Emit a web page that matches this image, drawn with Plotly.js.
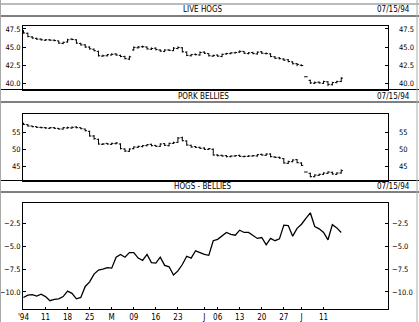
<!DOCTYPE html>
<html>
<head>
<meta charset="utf-8">
<script src="https://cdn.plot.ly/plotly-3.0.1.min.js"></script>
<style>html,body{margin:0;padding:0;background:#fff;}#chart{width:419px;height:322px;}</style>
</head>
<body>
<div id="chart"></div>
<script>
// Trading days (1994), April 4 .. July 15
var tradingDays = [
 '04-04','04-05','04-06','04-07','04-08','04-11','04-12','04-13','04-14','04-15',
 '04-18','04-19','04-20','04-21','04-22','04-25','04-26','04-27','04-28','04-29',
 '05-02','05-03','05-04','05-05','05-06','05-09','05-10','05-11','05-12','05-13',
 '05-16','05-17','05-18','05-19','05-20','05-23','05-24','05-25','05-26','05-27','05-31',
 '06-01','06-02','06-03','06-06','06-07','06-08','06-09','06-10','06-13','06-14','06-15','06-16','06-17',
 '06-20','06-21','06-22','06-23','06-24','06-27','06-28','06-29','06-30',
 '07-01','07-05','07-06','07-07','07-08','07-11','07-12','07-13','07-14','07-15'
];
var tickDates  = ['04-04','04-11','04-18','04-25','05-02','05-09','05-16','05-23','06-01','06-06','06-13','06-20','06-27','07-01','07-11'];
var tickLabels = ["'94",'11','18','25','M','09','16','23','J','06','13','20','27','J','11'];

// LIVE HOGS
var hogsOpen = [47.15,46.9,46.4,46.2,46.1,45.95,46.0,45.95,45.85,45.5,45.7,46.1,46.0,45.5,45.3,45.0,44.7,44.4,43.75,43.8,
 43.9,44.05,43.85,43.7,43.35,44.6,44.9,45.05,45.0,44.7,44.85,44.6,44.4,44.6,44.5,44.8,44.9,44.3,43.8,44.0,
 43.9,44.3,44.1,43.75,43.9,43.7,44.05,44.1,44.2,44.3,44.4,44.1,44.25,44.05,44.35,44.1,44.05,43.65,43.5,43.35,
 43.25,42.95,42.7,42.5,40.9,40.4,40.0,40.15,40.0,40.2,39.8,40.1,40.25];
var hogsHigh = [47.35,47.0,46.5,46.3,46.2,46.1,46.1,46.05,45.9,45.75,46.15,46.2,46.1,45.6,45.4,45.1,44.8,44.5,43.95,44.05,
 44.15,44.15,43.95,43.8,43.8,45.1,45.15,45.2,45.1,44.95,44.95,44.7,44.7,44.7,45.0,45.1,45.0,44.4,44.05,44.1,
 44.4,44.4,44.15,43.95,43.95,44.1,44.2,44.3,44.35,44.55,44.45,44.3,44.35,44.4,44.45,44.25,44.15,43.75,43.6,43.45,
 43.35,43.05,42.8,42.6,40.9,40.5,40.25,40.25,40.35,40.3,40.2,40.35,40.85];
var hogsLow = [46.85,46.35,46.15,46.0,45.9,45.85,45.85,45.8,45.45,45.4,45.6,45.95,45.45,45.2,44.9,44.65,44.4,43.7,43.65,43.7,
 43.85,43.8,43.6,43.3,43.2,44.5,44.8,44.9,44.65,44.6,44.55,44.35,44.3,44.45,44.45,44.7,44.25,43.75,43.7,43.85,
 43.8,44.05,43.7,43.65,43.65,43.6,43.95,44.0,44.1,44.2,44.05,44.0,44.0,43.95,44.05,44.0,43.6,43.35,43.3,43.1,
 42.9,42.6,42.35,42.35,40.9,39.9,39.9,39.95,39.9,39.6,39.7,40.0,40.15];
var hogsClose = [46.95,46.45,46.25,46.1,46.0,46.0,45.95,45.9,45.55,45.65,46.0,46.05,45.55,45.3,45.0,44.75,44.5,43.8,43.8,43.95,
 44.0,43.9,43.7,43.4,43.65,44.95,45.0,45.05,44.75,44.8,44.65,44.45,44.6,44.55,44.85,44.95,44.35,43.85,43.95,43.95,
 44.25,44.15,43.8,43.85,43.75,44.0,44.1,44.2,44.25,44.4,44.15,44.2,44.1,44.3,44.15,44.1,43.7,43.45,43.4,43.2,
 43.0,42.7,42.6,42.45,40.9,40.05,40.1,40.05,40.25,39.85,40.1,40.25,40.7];

// PORK BELLIES
var belliesOpen = [57.8,57.4,57.0,56.8,56.6,56.5,56.3,56.5,56.3,56.1,56.4,56.4,56.7,56.5,56.1,55.4,54.0,53.0,51.5,51.8,
 51.5,51.7,51.6,50.1,49.4,50.2,50.6,50.8,51.1,51.5,51.2,50.9,51.7,51.1,51.8,52.1,53.5,52.5,51.2,50.8,
 50.6,50.4,50.0,50.0,48.3,48.2,48.1,47.8,48.0,48.2,47.8,47.9,48.0,48.0,48.5,48.2,48.6,47.7,47.6,47.2,
 45.8,46.3,46.9,45.9,43.2,42.8,41.8,42.2,42.5,42.8,43.1,42.5,42.9];
var belliesHigh = [58.0,57.6,57.1,56.9,56.8,56.7,56.7,56.7,56.4,56.7,56.8,56.9,56.9,56.6,56.2,55.6,54.3,53.2,51.9,51.9,
 52.0,52.2,51.8,50.3,50.3,50.9,51.1,51.3,51.6,51.7,51.3,51.8,51.9,52.0,52.3,53.7,53.8,52.7,51.4,51.0,
 50.8,50.6,50.4,50.3,48.5,48.4,48.3,48.2,48.3,48.4,48.1,48.2,48.3,48.6,48.7,48.8,48.8,47.9,47.8,47.4,
 46.6,47.0,47.1,46.1,43.2,43.0,42.5,42.7,43.1,43.4,43.3,43.1,44.0];
var belliesLow = [57.3,56.8,56.6,56.4,56.3,56.2,56.1,56.1,55.9,55.9,56.2,56.2,56.3,56.0,55.4,53.8,52.9,51.4,51.3,51.4,
 51.3,51.5,50.0,49.2,49.2,50.0,50.4,50.6,50.9,50.9,50.7,50.7,51.0,50.9,51.6,51.9,52.4,51.1,50.5,50.4,
 50.1,49.8,49.8,48.1,47.9,47.8,47.6,47.6,47.8,47.7,47.6,47.7,47.8,47.8,48.1,48.0,47.6,47.4,47.2,45.7,
 45.6,46.1,45.8,45.0,43.2,41.6,41.6,42.0,42.3,42.6,42.4,42.3,42.7];
var belliesClose = [57.5,57.0,56.8,56.6,56.5,56.4,56.5,56.3,56.1,56.5,56.5,56.6,56.5,56.2,55.6,54.0,53.2,51.6,51.6,51.6,
 51.8,51.9,50.2,49.5,50.1,50.7,50.9,51.1,51.4,51.1,50.9,51.6,51.2,51.8,52.0,53.4,52.6,51.3,50.7,50.6,
 50.3,50.0,50.2,48.3,48.1,48.0,47.8,48.0,48.1,47.9,47.9,48.0,48.1,48.4,48.3,48.6,47.8,47.6,47.4,45.9,
 46.3,46.8,46.0,45.2,43.2,41.8,42.3,42.5,42.9,43.2,42.6,42.9,43.6];

// HOGS - BELLIES
var spread = [-10.6,-10.35,-10.3,-10.45,-10.25,-10.5,-10.95,-10.8,-10.75,-10.5,-9.9,-10.15,-10.75,-10.6,-9.4,-8.9,-8.05,-7.6,-7.5,-7.35,
 -7.4,-6.2,-5.9,-6.2,-5.7,-5.7,-6.3,-6.55,-5.9,-6.8,-6.85,-6.2,-7.1,-7.25,-8.15,-7.7,-7.0,-6.1,-6.3,-5.5,
 -5.7,-5.9,-6.0,-4.4,-4.25,-3.9,-3.5,-3.7,-3.8,-3.25,-3.5,-3.5,-3.8,-4.15,-4.05,-4.85,-4.15,-4.4,-4.2,-2.7,
 -2.75,-3.9,-3.05,-2.6,-1.95,-1.35,-2.85,-3.1,-3.5,-4.3,-2.65,-3.0,-3.5];

var reportDate = '07/15/94';
var panelTitles = ['LIVE HOGS','PORK BELLIES','HOGS - BELLIES'];

var xIdx = tradingDays.map(function(d, i){ return i; });
var tickVals = tickDates.map(function(d){ return tradingDays.indexOf(d); });

var FONT = '"Liberation Sans Narrow", "DejaVu Sans Condensed", "Arial Narrow", sans-serif';
var W = 419, H = 322;
function py(p){ return 1 - p / H; }
function px(p){ return p / W; }

var xDom = [px(23), px(388)];
var xRange = [-0.1, 82.6];

function ohlcTrace(o, h, l, c, xa_, ya_){
 return {type:'ohlc', x:xIdx, open:o, high:h, low:l, close:c, xaxis:xa_, yaxis:ya_,
  increasing:{line:{color:'#000', width:1}}, decreasing:{line:{color:'#000', width:1}}, tickwidth:0.4, hoverinfo:'skip'};
}
// invisible companions so the right-hand price axes are drawn
function ghost(y, xa_, ya_){
 return {type:'scatter', mode:'lines', x:xIdx, y:y, xaxis:xa_, yaxis:ya_, opacity:0, line:{width:0}, hoverinfo:'skip'};
}

var traces = [
 ohlcTrace(hogsOpen, hogsHigh, hogsLow, hogsClose, 'x', 'y'),
 ohlcTrace(belliesOpen, belliesHigh, belliesLow, belliesClose, 'x2', 'y2'),
 {type:'scatter', mode:'lines', x:xIdx, y:spread, xaxis:'x3', yaxis:'y3', line:{color:'#000', width:1.3}, hoverinfo:'skip'},
 ghost(hogsClose, 'x', 'y4'),
 ghost(belliesClose, 'x2', 'y5'),
 ghost(spread, 'x3', 'y6')
];

function xa(anchor, labels){
 var a = {domain:xDom, range:xRange, anchor:anchor, showline:true, mirror:true, linecolor:'#000', linewidth:1,
  showgrid:false, zeroline:false, rangeslider:{visible:false}, fixedrange:true, ticks:'', showticklabels:false};
 if (labels){
  a.showticklabels = true; a.tickmode = 'array'; a.tickvals = tickVals; a.ticktext = tickLabels;
  a.tickfont = {family:FONT, size:8, color:'#000'}; a.ticks = 'inside'; a.ticklen = 2; a.tickcolor = '#000';
 }
 return a;
}
function ya(dom, range, vals, fmt, anchor, right, standoff){
 var a = {domain:dom, range:range, anchor:anchor, tickmode:'array', tickvals:vals, tickformat:fmt,
  ticks:'inside', ticklen:3, tickcolor:'#000', showgrid:false, zeroline:false, fixedrange:true,
  tickfont:{family:FONT, size:7.5, color:'#000'}, ticklabelstandoff:standoff};
 if (right){ a.overlaying = right; a.side = 'right'; a.showline = false; }
 else { a.showline = true; a.mirror = true; a.linecolor = '#000'; a.linewidth = 1; }
 return a;
}

var d1 = [py(89.5), py(26)], d2 = [py(180.5), py(114)], d3 = [py(309), py(203)];
var r1 = [39.14, 47.91], r2 = [40.65, 60.6], r3 = [-11.86, -0.28];
var v1 = [40, 42.5, 45, 47.5], v2 = [45, 50, 55], v3 = [-10, -7.5, -5, -2.5];

var layout = {
 width:W, height:H, margin:{l:0, r:0, t:0, b:0}, paper_bgcolor:'#fff', plot_bgcolor:'#fff', showlegend:false,
 font:{family:FONT, size:8, color:'#000'},
 xaxis: xa('y', false), xaxis2: xa('y2', false), xaxis3: xa('y3', true),
 yaxis:  ya(d1, r1, v1, '.1f', 'x', null, 0),
 yaxis2: ya(d2, r2, v2, '', 'x2', null, 0),
 yaxis3: ya(d3, r3, v3, '.1f', 'x3', null, 0),
 yaxis4: ya(d1, r1, v1, '.1f', 'x', 'y', 10),
 yaxis5: ya(d2, r2, v2, '', 'x2', 'y2', 10),
 yaxis6: ya(d3, r3, v3, '.1f', 'x3', 'y3', 3),
 shapes: [
  {type:'line', xref:'paper', yref:'paper', x0:0, x1:1, y0:py(4), y1:py(4), line:{color:'#777', width:1}},
  {type:'line', xref:'paper', yref:'paper', x0:0, x1:1, y0:py(16), y1:py(16), line:{color:'#000', width:1}},
  {type:'line', xref:'paper', yref:'paper', x0:0, x1:1, y0:py(89.5), y1:py(89.5), line:{color:'#000', width:1}},
  {type:'line', xref:'paper', yref:'paper', x0:0, x1:1, y0:py(102), y1:py(102), line:{color:'#000', width:1}},
  {type:'line', xref:'paper', yref:'paper', x0:0, x1:1, y0:py(180.5), y1:py(180.5), line:{color:'#000', width:1}},
  {type:'line', xref:'paper', yref:'paper', x0:0, x1:1, y0:py(192), y1:py(192), line:{color:'#000', width:1}},
  {type:'line', xref:'paper', yref:'paper', x0:px(0.5), x1:px(0.5), y0:0, y1:1, line:{color:'#aaa', width:1}},
  {type:'line', xref:'paper', yref:'paper', x0:px(417), x1:px(417), y0:0, y1:1, line:{color:'#aaa', width:1}}
 ],
 annotations: [
  {text:panelTitles[0], x:px(203), y:py(10), xref:'paper', yref:'paper', showarrow:false, xanchor:'center', yanchor:'middle'},
  {text:reportDate, x:px(412), y:py(10), xref:'paper', yref:'paper', showarrow:false, xanchor:'right', yanchor:'middle'},
  {text:panelTitles[1], x:px(203), y:py(96.5), xref:'paper', yref:'paper', showarrow:false, xanchor:'center', yanchor:'middle'},
  {text:reportDate, x:px(412), y:py(96.5), xref:'paper', yref:'paper', showarrow:false, xanchor:'right', yanchor:'middle'},
  {text:panelTitles[2], x:px(203), y:py(186.5), xref:'paper', yref:'paper', showarrow:false, xanchor:'center', yanchor:'middle'},
  {text:reportDate, x:px(412), y:py(186.5), xref:'paper', yref:'paper', showarrow:false, xanchor:'right', yanchor:'middle'}
 ]
};

Plotly.newPlot('chart', traces, layout, {staticPlot:true, displayModeBar:false});
</script>
</body>
</html>
